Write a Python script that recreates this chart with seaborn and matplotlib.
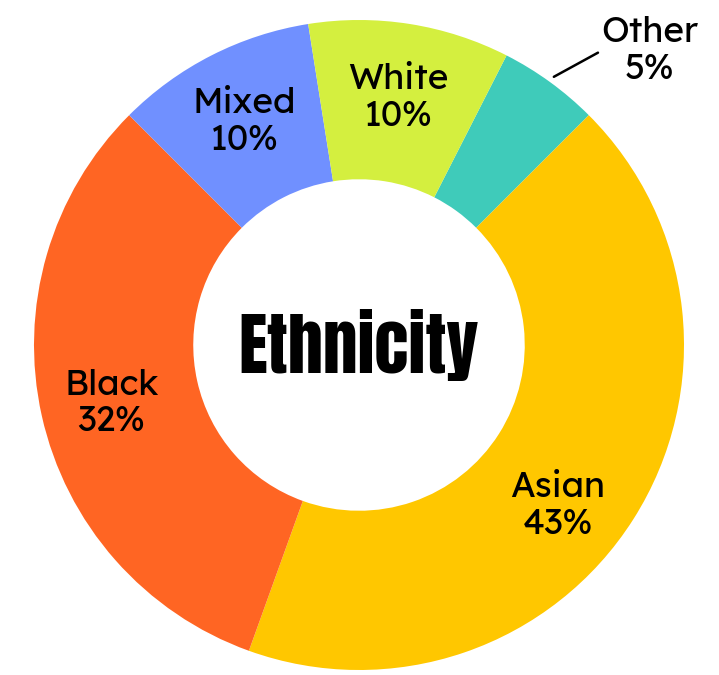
import matplotlib
matplotlib.use("Agg")
import matplotlib.pyplot as plt
import seaborn as sns
import numpy as np

# data
groups = ["Other", "Asian", "Black", "Mixed", "White"]
shares = [5, 43, 32, 10, 10]
colors = ["#3FCBBA", "#FFC700", "#FF6523", "#7090FF", "#D4EF3F"]

sns.set_theme(style="white")
plt.rcParams["font.family"] = ["Lexend", "DejaVu Sans"]
plt.rcParams["text.color"] = "black"

fig = plt.figure(figsize=(7.19, 6.75), dpi=100)
ax = fig.add_axes([0, 0, 1, 1])

wedges, _ = ax.pie(shares, colors=colors, startangle=63, counterclock=False,
                   radius=1.0, wedgeprops=dict(width=0.49, linewidth=0))

# small angular nudge so the big slice's label sits like the original
nudge = {"Asian": -6}

for w, g, v in zip(wedges, groups, shares):
    mid = np.deg2rad((w.theta1 + w.theta2) / 2 + nudge.get(g, 0))
    label = f"{g}\n{v}%"
    if g == "Other":
        ax.annotate(label, xy=(1.02 * np.cos(mid), 1.02 * np.sin(mid)),
                    xytext=(0.895, 0.905), ha="center", va="center",
                    fontsize=25.5, linespacing=1.15,
                    arrowprops=dict(arrowstyle="-", color="black", lw=1.8,
                                    shrinkA=0, shrinkB=0,
                                    relpos=(0.0, 0.5)))
    else:
        r = 0.78
        ax.text(r * np.cos(mid), r * np.sin(mid) - 0.01, label, ha="center",
                va="center", fontsize=25.5, linespacing=1.15)

ax.text(0.0, 0.0, "Ethnicity", ha="center", va="center", fontsize=50,
        family=["Anton", "DejaVu Sans"])

ax.set_xlim(-359 / 325, 360 / 325)
ax.set_ylim(-330 / 325, 345 / 325)
ax.set_aspect("auto")
ax.axis("off")

fig.savefig("out.png", dpi=100, facecolor="white")
